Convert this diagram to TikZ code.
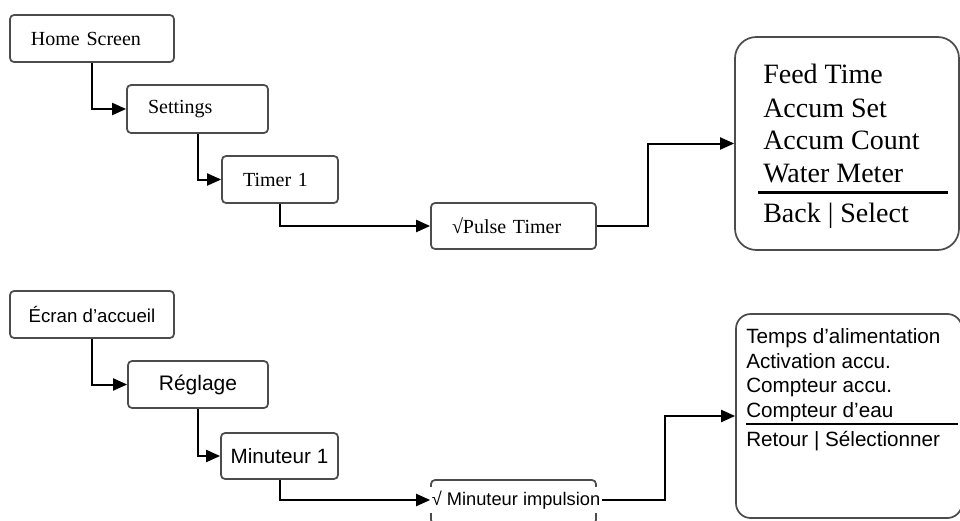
\documentclass[tikz,border=0pt]{standalone}
\usepackage{fontspec}
\setmainfont{Liberation Serif}
\newfontfamily\arialfont{Liberation Sans}
\usetikzlibrary{arrows.meta}

\begin{document}
\begin{tikzpicture}[x=0.75pt,y=-0.75pt,line join=miter,>={Triangle[length=10.5pt,width=9pt]},
		menubox/.style={draw=black!70,line width=1.3pt,rounded corners=3pt,inner xsep=15.75pt,inner ysep=0pt,align=left,font=\fontsize{15}{18}\selectfont},
		menuboxfr/.style={draw=black!70,line width=1.3pt,rounded corners=3pt,inner sep=0pt,align=center},
		link/.style={->,line width=1.5pt}]
			\useasboundingbox (0,0) rectangle (960,521);
			\clip (0,0) rectangle (960,521);
			\node[menubox,text width=91.5pt,minimum height=35.25pt] (home) at (92,38.5) {Home Screen};
			\node[menubox,text width=74.25pt,minimum height=36pt] (settings) at (197.5,109) {Settings};
			\node[menubox,text width=55.5pt,minimum height=35.25pt] (timer) at (280,179.5) {Timer 1};
			\node[menubox,text width=92.25pt,minimum height=34.5pt] (pulse) at (513.5,226) {√Pulse Timer};
			\node[draw=black!70,line width=1.3pt,rounded corners=16pt,minimum width=168pt,minimum height=159.75pt] (menu) at (847,143.5) {};
			\foreach \txt/\yy [count=\i] in {Feed Time/83,Accum Set/117,Accum Count/149,Water Meter/182,Back | Select/222}{
				\node[anchor=base west,inner sep=0pt,font=\fontsize{21}{25}\selectfont] (menuline\i) at (763,\yy) {\txt};
			}
			\draw[line width=2.25pt] (758,192)--(948,192);
			\draw[link] (home.south) |- (settings.west);
			\draw[link] (settings.south) |- (timer.west);
			\draw[link] (timer.south) |- (pulse.west);
			\draw[link] (pulse.east) -- ++(51,0) |- (menu.west);
			\node[menuboxfr,minimum width=123pt,minimum height=35.25pt,font=\arialfont\fontsize{14}{17}\selectfont] (accueil) at (92,314.5) {Écran d’accueil};
			\node[menuboxfr,minimum width=105pt,minimum height=35.25pt,font=\arialfont\fontsize{15.75}{19}\selectfont] (reglage) at (198,384.5) {Réglage};
			\node[menuboxfr,minimum width=87.75pt,minimum height=34.5pt,font=\arialfont\fontsize{15.5}{19}\selectfont] (minuteur) at (279.5,456) {Minuteur 1};
			\node[menuboxfr,minimum width=123.75pt,minimum height=33pt] (impulsion) at (513.5,502) {};
			\node[fill=white,inner xsep=1pt,inner ysep=3pt,font=\arialfont\fontsize{13.7}{16}\selectfont] (impulsiontxt) at (516,500) {√ Minuteur impulsion};
			\node[draw=black!70,line width=1.3pt,rounded corners=11pt,minimum width=169.5pt,minimum height=153pt] (menufr) at (849,416) {};
			\foreach \txt/\yy [count=\i] in {Temps d’alimentation/343,Activation accu./368,Compteur accu./392,Compteur d’eau/417,Retour | Sélectionner/446}{
				\node[anchor=base west,inner sep=0pt,font=\arialfont\fontsize{15.5}{18}\selectfont] (menufrline\i) at (746,\yy) {\txt};
			}
			\draw[line width=1.5pt] (746,424)--(958,424);
			\draw[link] (accueil.south) |- (reglage.west);
			\draw[link] (reglage.south) |- (minuteur.west);
			\draw[link] (minuteur.south) |- (impulsiontxt.west);
			\draw[link] (impulsiontxt.east) -- ++(63,0) |- (menufr.west);
		\end{tikzpicture}
\end{document}
